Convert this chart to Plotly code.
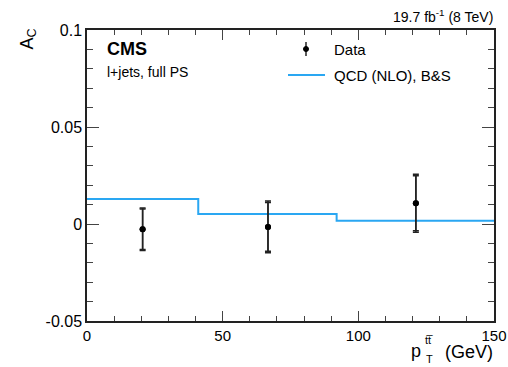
import plotly.graph_objects as go

# ---- data ----
bin_edges = [0, 41, 92, 300]
theory_vals = [0.0129, 0.0052, 0.0017]
data_x = [20.5, 66.7, 121.2]
data_y = [-0.0027, -0.0015, 0.0107]
data_err_tot = [0.0110, 0.0133, 0.0150]
data_err_stat = [0.0104, 0.0126, 0.0142]

# page layout (page pixels)
W, H = 508, 367
PL, PR, PT, PB = 87, 494, 30, 321   # plot area in page pixels
L, T, R, B = PL, PT, W - PR, H - PB
pw, ph = PR - PL, PB - PT


def px(xp):
    return (xp - PL) / pw


def py(yp):
    return (PB - yp) / ph


FONT = "Liberation Sans, Arial, sans-serif"
BLUE = "#2aa7f2"

fig = go.Figure()

# theory step histogram
fig.add_trace(go.Scatter(
    x=bin_edges, y=theory_vals + [theory_vals[-1]],
    mode="lines", line=dict(color=BLUE, width=2, shape="hv"),
    name="QCD (NLO), B&S", showlegend=False, hoverinfo="skip"))

# data, total uncertainty
fig.add_trace(go.Scatter(
    x=data_x, y=data_y, mode="markers",
    marker=dict(color="black", size=6),
    error_y=dict(type="data", array=data_err_tot, color="#222",
                 thickness=1.5, width=3),
    name="Data", showlegend=False))
# data, stat uncertainty
fig.add_trace(go.Scatter(
    x=data_x, y=data_y, mode="markers",
    marker=dict(color="black", size=6),
    error_y=dict(type="data", array=data_err_stat, color="#222",
                 thickness=1.5, width=3),
    showlegend=False))

axis_common = dict(
    showline=True, linecolor="#222", linewidth=1.5, mirror="ticks",
    ticks="inside", tickcolor="#444", tickwidth=1,
    showgrid=False, zeroline=False, automargin=False,
)

fig.update_xaxes(range=[0, 150], tickvals=[0, 50, 100, 150],
                 ticktext=["0", "50", "100", "150"], ticklen=10,
                 tickfont=dict(family=FONT, size=15, color="black"),
                 minor=dict(dtick=10, tick0=0, ticks="inside", ticklen=5,
                            tickcolor="#444"),
                 **axis_common)
fig.update_yaxes(range=[-0.05, 0.1], tickvals=[-0.05, 0, 0.05, 0.1],
                 ticktext=["-0.05", "0", "0.05", "0.1"], ticklen=12,
                 tickfont=dict(family=FONT, size=16, color="black"),
                 minor=dict(dtick=0.01, tick0=0, ticks="inside", ticklen=6,
                            tickcolor="#444"),
                 **axis_common)

ann = []
# y title
ann.append(dict(text="A<sub>C</sub>", x=px(28), y=py(27), xref="paper",
                yref="paper", textangle=-90, showarrow=False,
                xanchor="center", yanchor="top",
                font=dict(family=FONT, size=18, color="black")))
# x title
ann.append(dict(text="(GeV)", x=px(495), y=py(352), xref="paper",
                yref="paper", showarrow=False, xanchor="right",
                yanchor="middle", font=dict(family=FONT, size=18, color="black")))
ann.append(dict(text="p", x=px(423), y=py(351), xref="paper",
                yref="paper", showarrow=False, xanchor="right",
                yanchor="middle", font=dict(family=FONT, size=18, color="black")))
ann.append(dict(text="tt\u0305", x=px(423), y=py(340), xref="paper",
                yref="paper", showarrow=False, xanchor="left",
                yanchor="middle", font=dict(family=FONT, size=11, color="black")))
ann.append(dict(text="T", x=px(424), y=py(359), xref="paper",
                yref="paper", showarrow=False, xanchor="left",
                yanchor="middle", font=dict(family=FONT, size=11, color="black")))
# lumi
ann.append(dict(text="19.7 fb<sup>-1</sup> (8 TeV)", x=px(495), y=py(16),
                xref="paper", yref="paper", showarrow=False,
                xanchor="right", yanchor="middle",
                font=dict(family=FONT, size=14, color="black")))
# CMS
ann.append(dict(text="<b>CMS</b>", x=px(105), y=py(49), xref="paper",
                yref="paper", showarrow=False, xanchor="left",
                yanchor="middle", font=dict(family=FONT, size=18, color="black")))
ann.append(dict(text="l+jets, full PS", x=px(105), y=py(72), xref="paper",
                yref="paper", showarrow=False, xanchor="left",
                yanchor="middle", font=dict(family=FONT, size=14, color="black")))
# legend text
ann.append(dict(text="Data", x=px(332), y=py(49), xref="paper",
                yref="paper", showarrow=False, xanchor="left",
                yanchor="middle", font=dict(family=FONT, size=15, color="black")))
ann.append(dict(text="QCD (NLO), B&S", x=px(332), y=py(75), xref="paper",
                yref="paper", showarrow=False, xanchor="left",
                yanchor="middle", font=dict(family=FONT, size=15, color="black")))

shapes = [
    # legend symbols
    dict(type="line", xref="paper", yref="paper", x0=px(288), x1=px(325),
         y0=py(75), y1=py(75), line=dict(color=BLUE, width=2)),
    dict(type="line", xref="paper", yref="paper", x0=px(306), x1=px(306),
         y0=py(42), y1=py(56), line=dict(color="#222", width=1.5)),
    dict(type="circle", xref="paper", yref="paper", x0=px(303.5), x1=px(308.5),
         y0=py(46.5), y1=py(51.5), fillcolor="black", line=dict(color="black", width=1)),
]

fig.update_layout(
    width=W, height=H,
    margin=dict(l=L, r=R, t=T, b=B, pad=0, autoexpand=False),
    paper_bgcolor="white", plot_bgcolor="white",
    annotations=ann, shapes=shapes, showlegend=False,
    font=dict(family=FONT),
)

fig.write_html(
    "out.html",
    config={"displayModeBar": False},
    post_script="document.body.style.margin='0';"
                "document.body.style.overflow='hidden';",
)
